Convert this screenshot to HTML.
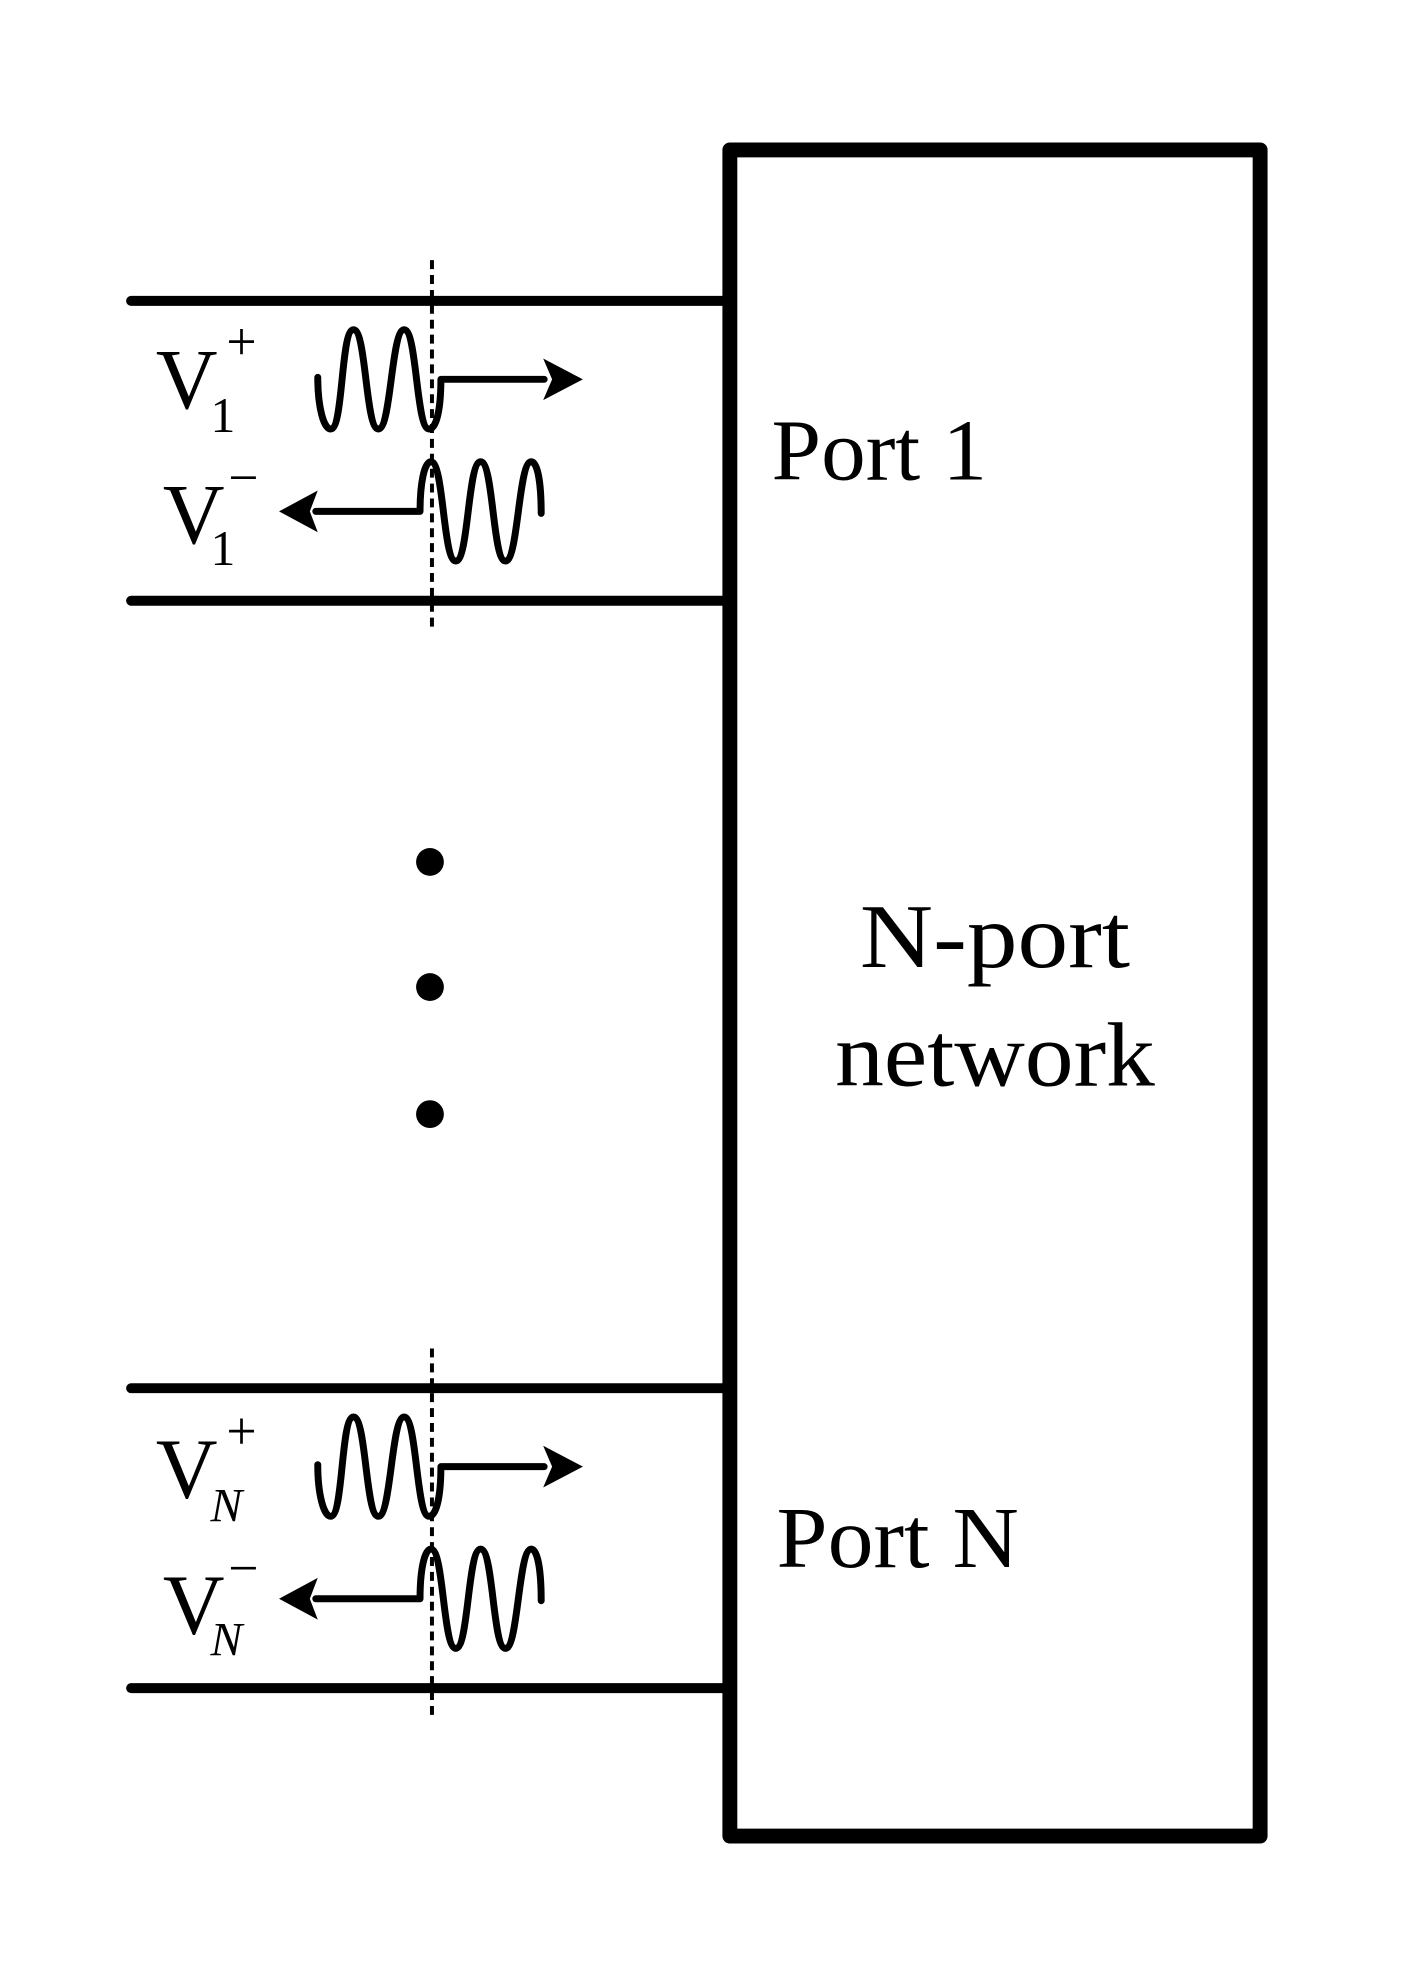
<!DOCTYPE html>
<html><head><meta charset="utf-8"><style>html,body{margin:0;padding:0;background:#fff}svg{display:block}</style></head>
<body>
<svg width="1406" height="1988" viewBox="0 0 1406 1988" xmlns="http://www.w3.org/2000/svg">
<g transform="scale(0.993)">
<rect x="735" y="151" width="534" height="1698" fill="none" stroke="#000" stroke-width="15" stroke-linejoin="round"/>
<g stroke="#000" stroke-width="10" stroke-linecap="round">
<line x1="132" y1="303" x2="735" y2="303"/>
<line x1="132" y1="605" x2="735" y2="605"/>
<line x1="132" y1="1398" x2="735" y2="1398"/>
<line x1="132" y1="1700" x2="735" y2="1700"/>
</g>
<g stroke="#000" stroke-width="4" stroke-dasharray="9,6">
<line x1="435" y1="262" x2="435" y2="633"/>
<line x1="435" y1="1358" x2="435" y2="1728"/>
</g>
<g fill="#000">
<circle cx="433" cy="868" r="14"/>
<circle cx="433" cy="994" r="14"/>
<circle cx="433" cy="1122" r="14"/>
</g>
<g id="p1">
<path d="M320 380 C320 410 326 432 333 432 C346 432 343 332 356 332 C369 332 368 432 381 432 C394 432 394 332 407 332 C420 332 419 432 432 432 C440 432 444 410 444 382 L548 382" fill="none" stroke="#000" stroke-width="7" stroke-linejoin="round" stroke-linecap="round"/>
<path d="M587 382 L547 361 L556 382 L547 403 Z" fill="#000"/>
<path d="M318 515 L423 515 C423 488 427 465 434 465 C447 465 446 565 459 565 C472 565 471 465 484 465 C497 465 496 565 509 565 C522 565 522 465 535 465 C542 465 545 490 545 517" fill="none" stroke="#000" stroke-width="7" stroke-linejoin="round" stroke-linecap="round"/>
<path d="M281 515 L320 494 L312 515 L320 536 Z" fill="#000"/>
</g>
<use href="#p1" transform="translate(0,1095)"/>
<g font-family="'Liberation Serif', serif" fill="#000">
<text x="157" y="411" font-size="86">V</text>
<text x="212" y="435" font-size="50">1</text>
<text x="228" y="362" font-size="54">+</text>
<text x="164" y="547" font-size="86">V</text>
<text x="212" y="569" font-size="50">1</text>
<text x="230" y="499" font-size="54">−</text>
<text x="157" y="1508" font-size="86">V</text>
<text x="212" y="1532" font-size="48" font-style="italic">N</text>
<text x="228" y="1459" font-size="54">+</text>
<text x="164" y="1645" font-size="86">V</text>
<text x="212" y="1667" font-size="48" font-style="italic">N</text>
<text x="230" y="1597" font-size="54">−</text>
<text x="777" y="483" font-size="88" textLength="217" lengthAdjust="spacingAndGlyphs">Port 1</text>
<text x="782" y="1578" font-size="88" textLength="244" lengthAdjust="spacingAndGlyphs">Port N</text>
<text x="866" y="974" font-size="92" textLength="272" lengthAdjust="spacingAndGlyphs">N-port</text>
<text x="841" y="1093" font-size="92" textLength="322" lengthAdjust="spacingAndGlyphs">network</text>
</g>
</g>
</svg>
</body></html>
